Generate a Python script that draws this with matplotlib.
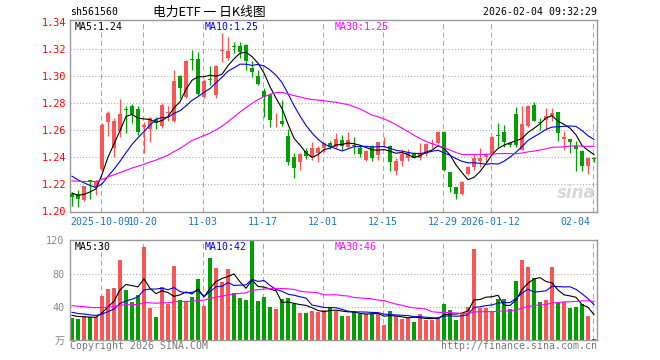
import matplotlib
matplotlib.use("Agg")
import matplotlib.pyplot as plt
from matplotlib.transforms import blended_transform_factory
import numpy as np

# ---- data (88 trading days) ----
opens = [1.2130, 1.2130, 1.2083, 1.2232, 1.2178, 1.2310, 1.2660, 1.2466, 1.2595, 1.2755,
         1.2780, 1.2757, 1.2620, 1.2612, 1.2686, 1.2630, 1.2728, 1.2664, 1.3000, 1.2848,
         1.3122, 1.3124, 1.2848, 1.2975, 1.2856, 1.3185, 1.3136, 1.3216, 1.3220, 1.3232,
         1.3060, 1.3000, 1.2892, 1.2856, 1.2687, 1.2669, 1.2556, 1.2400, 1.2368, 1.2446,
         1.2400, 1.2430, 1.2466, 1.2503, 1.2478, 1.2528, 1.2479, 1.2491, 1.2472, 1.2381,
         1.2484, 1.2418, 1.2502, 1.2484, 1.2302, 1.2370, 1.2398, 1.2423, 1.2398, 1.2423,
         1.2495, 1.2504, 1.2590, 1.2290, 1.2177, 1.2128, 1.2275, 1.2327, 1.2369, 1.2405,
         1.2423, 1.2560, 1.2590, 1.2504, 1.2718, 1.2455, 1.2630, 1.2782, 1.2658, 1.2672,
         1.2705, 1.2737, 1.2532, 1.2535, 1.2480, 1.2448, 1.2336, 1.2393]
highs = [1.2140, 1.2156, 1.2190, 1.2234, 1.2234, 1.2650, 1.2740, 1.2690, 1.2830, 1.2780,
         1.2790, 1.2780, 1.2660, 1.2700, 1.2695, 1.2800, 1.2780, 1.3045, 1.3005, 1.3120,
         1.3193, 1.3180, 1.2980, 1.3070, 1.3080, 1.3315, 1.3290, 1.3250, 1.3250, 1.3235,
         1.3110, 1.3045, 1.2910, 1.2875, 1.2725, 1.2820, 1.2605, 1.2430, 1.2430, 1.2465,
         1.2515, 1.2480, 1.2515, 1.2520, 1.2576, 1.2565, 1.2590, 1.2553, 1.2491, 1.2455,
         1.2491, 1.2516, 1.2553, 1.2491, 1.2393, 1.2462, 1.2462, 1.2442, 1.2504, 1.2504,
         1.2535, 1.2595, 1.2595, 1.2292, 1.2180, 1.2223, 1.2335, 1.2423, 1.2469, 1.2430,
         1.2557, 1.2656, 1.2640, 1.2516, 1.2774, 1.2780, 1.2785, 1.2810, 1.2688, 1.2762,
         1.2762, 1.2737, 1.2595, 1.2538, 1.2517, 1.2455, 1.2402, 1.2401]
lows = [1.2040, 1.2034, 1.2076, 1.2095, 1.2124, 1.2300, 1.2560, 1.2400, 1.2550, 1.2578,
        1.2650, 1.2565, 1.2430, 1.2510, 1.2612, 1.2615, 1.2664, 1.2659, 1.2840, 1.2840,
        1.3045, 1.2856, 1.2841, 1.2935, 1.2840, 1.3105, 1.3120, 1.3166, 1.3130, 1.3045,
        1.2995, 1.2935, 1.2700, 1.2627, 1.2627, 1.2630, 1.2343, 1.2250, 1.2306, 1.2385,
        1.2380, 1.2365, 1.2440, 1.2460, 1.2466, 1.2455, 1.2467, 1.2423, 1.2405, 1.2373,
        1.2369, 1.2381, 1.2479, 1.2300, 1.2272, 1.2332, 1.2369, 1.2393, 1.2381, 1.2412,
        1.2470, 1.2500, 1.2295, 1.2147, 1.2093, 1.2118, 1.2270, 1.2308, 1.2329, 1.2364,
        1.2418, 1.2479, 1.2479, 1.2479, 1.2479, 1.2450, 1.2620, 1.2665, 1.2602, 1.2600,
        1.2665, 1.2520, 1.2450, 1.2430, 1.2298, 1.2296, 1.2280, 1.2365]
closes = [1.2110, 1.2090, 1.2185, 1.2222, 1.2227, 1.2640, 1.2730, 1.2668, 1.2717, 1.2748,
          1.2720, 1.2590, 1.2640, 1.2693, 1.2650, 1.2783, 1.2735, 1.2964, 1.2910, 1.3114,
          1.3117, 1.2866, 1.2964, 1.2968, 1.3077, 1.3190, 1.3183, 1.3212, 1.3180, 1.3110,
          1.3030, 1.2940, 1.2848, 1.2676, 1.2690, 1.2645, 1.2367, 1.2323, 1.2422, 1.2412,
          1.2470, 1.2470, 1.2507, 1.2478, 1.2532, 1.2482, 1.2528, 1.2480, 1.2423, 1.2447,
          1.2398, 1.2511, 1.2506, 1.2364, 1.2369, 1.2425, 1.2435, 1.2398, 1.2430, 1.2497,
          1.2505, 1.2590, 1.2307, 1.2184, 1.2130, 1.2221, 1.2331, 1.2393, 1.2398, 1.2423,
          1.2553, 1.2556, 1.2516, 1.2487, 1.2492, 1.2642, 1.2778, 1.2669, 1.2654, 1.2705,
          1.2727, 1.2578, 1.2550, 1.2515, 1.2458, 1.2335, 1.2398, 1.2390]
volumes = [26.8, 25.6, 29.6, 28.0, 28.0, 53.2, 62.0, 63.2, 96.4, 60.4,
           46.0, 54.4, 112.0, 39.2, 28.0, 64.0, 43.0, 89.6, 48.0, 45.6,
           52.0, 73.6, 41.2, 98.8, 87.2, 70.0, 86.0, 56.4, 51.2, 48.4,
           120.0, 47.2, 52.4, 40.0, 37.6, 49.2, 51.2, 43.6, 32.8, 32.8,
           35.2, 34.4, 36.4, 40.0, 35.2, 29.6, 29.6, 35.2, 32.0, 31.2,
           31.2, 32.0, 18.4, 35.2, 29.6, 25.6, 26.4, 22.0, 32.0, 24.8,
           24.8, 28.0, 43.6, 36.4, 24.4, 31.2, 40.4, 109.6, 39.2, 38.4,
           33.6, 49.6, 49.6, 37.6, 71.2, 96.4, 88.0, 74.8, 45.6, 48.0,
           88.0, 45.6, 45.6, 39.2, 40.0, 43.6, 29.6, 1.6]

# days before the visible window, only used to seed the moving averages
pre_close = [1.218, 1.221, 1.224, 1.222, 1.219, 1.217, 1.220, 1.223, 1.225, 1.222,
             1.219, 1.218, 1.221, 1.223, 1.222, 1.220, 1.218, 1.221, 1.224, 1.220,
             1.236, 1.240, 1.242, 1.238, 1.2365, 1.217, 1.215, 1.213, 1.2115]
pre_vol = [48, 44, 52, 41, 46, 50, 43, 47, 45, 42, 49, 44, 46, 43, 48, 45, 47, 44, 42, 46,
           40, 36, 38, 35, 37, 33, 31, 30, 29.2]

date_labels = ["2025-10-09", "10-20", "11-03", "11-17", "12-01", "12-15", "12-29", "2026-01-12", "02-04"]
date_pos = [5, 12, 22, 32, 42, 52, 62, 70, 87]
price_ticks = [1.20, 1.22, 1.24, 1.26, 1.28, 1.30, 1.32, 1.34]
vol_ticks = [40, 80, 120]

RED = "#fa5656"
GREEN = "#00a000"
GRID = "#a8a8a8"
MONO = "DejaVu Sans Mono"


def ma(pre, vals, n):
    full = np.array(pre + vals, dtype=float)
    return np.convolve(full, np.ones(n) / n, mode="valid")[-len(vals):]


W, H = 660, 360
fig = plt.figure(figsize=(W / 100, H / 100), dpi=100)
fig.patch.set_facecolor("white")
axp = fig.add_axes([70 / W, (H - 212) / H, 527 / W, 192 / H])
axv = fig.add_axes([70 / W, (H - 340.3) / H, 527 / W, 100 / H])

x = np.arange(len(closes))
o, hi, lo, c = map(np.array, (opens, highs, lows, closes))
up = c >= o
cols = np.where(up, RED, GREEN)

for ax in (axp, axv):
    ax.set_xlim(-1 / 3, 87.5)
    for s in ax.spines.values():
        s.set_color("#999999")
        s.set_linewidth(1.0)
    for p in date_pos:
        ax.axvline(p - 0.2, color=GRID, lw=0.75, ls=(0, (4.8, 3.2)), zorder=0)
    ax.set_xticks([])

# price panel
axp.set_ylim(1.1996, 1.3413)
for y in price_ticks[1:-1]:
    axp.axhline(y, color=GRID, lw=0.75, ls=(0, (1, 2)), zorder=0)
axp.vlines(x, lo, hi, colors=cols, lw=0.9, zorder=2)
body = np.maximum(np.abs(c - o), 0.0006)
axp.bar(x, body, bottom=np.minimum(o, c), width=0.72, color=cols, zorder=3, linewidth=0)
axp.plot(x, ma(pre_close, closes, 5), color="black", lw=0.8, zorder=4)
axp.plot(x, ma(pre_close, closes, 10), color="#0000ee", lw=0.8, zorder=4)
axp.plot(x, ma(pre_close, closes, 30), color="#ff00ff", lw=0.8, zorder=4)
axp.set_yticks(price_ticks)
axp.set_yticklabels([f"{t:.2f}" for t in price_ticks], family=MONO, fontsize=7.3, color="red")
axp.tick_params(axis="y", length=0, pad=3)

tr = blended_transform_factory(axp.transData, axp.transAxes)
for lab, p in zip(date_labels, date_pos):
    if p == date_pos[0]:
        axp.text(-1 / 3, -0.05, lab, transform=tr, ha="left", va="center",
                 family=MONO, fontsize=7.1, color="#1874cd")
    elif p == date_pos[-1]:
        axp.text(86.4, -0.05, lab, transform=tr, ha="right", va="center",
                 family=MONO, fontsize=7.1, color="#1874cd")
    else:
        axp.text(p - 0.2, -0.05, lab, transform=tr, ha="center", va="center",
                 family=MONO, fontsize=7.1, color="#1874cd")

axp.text(0.997, 0.05, "sina", transform=axp.transAxes, ha="right", va="bottom",
         fontsize=12, style="italic", weight="bold", color="#d8d8d8", zorder=1)

# volume panel
axv.set_ylim(0, 120)
for y in vol_ticks[:-1]:
    axv.axhline(y, color=GRID, lw=0.75, ls=(0, (1, 2)), zorder=0)
axv.bar(x, volumes, width=0.82, color=cols, linewidth=0, zorder=2)
axv.plot(x, ma(pre_vol, volumes, 5), color="black", lw=0.8, zorder=4)
axv.plot(x, ma(pre_vol, volumes, 10), color="#0000ee", lw=0.8, zorder=4)
axv.plot(x, ma(pre_vol, volumes, 30), color="#ff00ff", lw=0.8, zorder=4)
axv.set_yticks([0] + vol_ticks)
axv.set_yticklabels(["万"] + [str(t) for t in vol_ticks],
                    family=[MONO, "Noto Sans CJK SC"], fontsize=7.3, color="#888888")
axv.tick_params(axis="y", length=0, pad=4)

# header and footer texts
def ftext(px, py, s, **kw):
    kw.setdefault("family", MONO)
    kw.setdefault("fontsize", 7.1)
    kw.setdefault("va", "center")
    fig.text(px / W, 1 - py / H, s, **kw)

ftext(70, 12, "sh561560", ha="left")
ftext(209, 12, "电力ETF 一 日K线图", ha="center", family=["Noto Sans CJK SC", "DejaVu Sans"], fontsize=9.2)
ftext(597, 12, "2026-02-04 09:32:29", ha="right")
ftext(75, 26.5, "MA5:1.24", ha="left", color="black")
ftext(205, 26.5, "MA10:1.25", ha="left", color="#0000ee")
ftext(335, 26.5, "MA30:1.25", ha="left", color="#ff00ff")
ftext(75, 247, "MA5:30", ha="left", color="black")
ftext(205, 247, "MA10:42", ha="left", color="#0000ee")
ftext(335, 247, "MA30:46", ha="left", color="#ff00ff")
ftext(70, 346, "Copyright 2026 SINA.COM", ha="left", color="#777777")
ftext(597, 346, "http://finance.sina.com.cn", ha="right", color="#777777")

fig.savefig("out.png", dpi=100)
